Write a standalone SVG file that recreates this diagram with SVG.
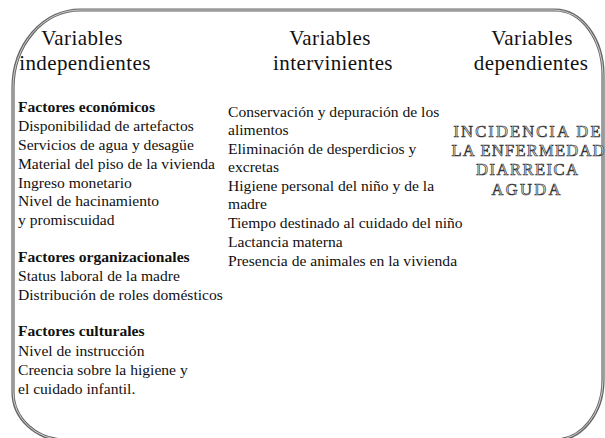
<svg xmlns="http://www.w3.org/2000/svg" width="605" height="438" viewBox="0 0 605 438">
<style>
.frame{fill:none;stroke:#666;stroke-width:3.2}
.frame2{fill:none;stroke:#ddd;stroke-width:0.9}
.h{font-size:21px;fill:#111;text-anchor:middle;letter-spacing:0.4px}
.t{font-size:15.6px;fill:#111}
.b{font-weight:bold}
.o{font-size:16.5px;fill:#f2f2f2;stroke:#333;stroke-width:0.7;text-anchor:middle}
</style>
<defs>
<path id="border" d="M 80,10 L 555,10 A 48,65 0 0 1 603,75 L 603,380 A 48,60 0 0 1 555,440 L 65,440 A 52,48 0 0 1 13,392 L 13,88 A 67,78 0 0 1 80,10 Z"/>
</defs>
<g id="frame">
<use href="#border" class="frame"/>
<use href="#border" class="frame2"/>
</g>
<g id="independientes">
<text font-family="Liberation Serif" class="h" x="82" y="45">Variables</text>
<text font-family="Liberation Serif" class="h" x="85" y="70">independientes</text>
<text font-family="Liberation Serif" class="t b" x="18" y="112">Factores económicos</text>
<text font-family="Liberation Serif" class="t" x="18" y="131">Disponibilidad de artefactos</text>
<text font-family="Liberation Serif" class="t" x="18" y="150">Servicios de agua y desagüe</text>
<text font-family="Liberation Serif" class="t" x="18" y="169">Material del piso de la vivienda</text>
<text font-family="Liberation Serif" class="t" x="18" y="188">Ingreso monetario</text>
<text font-family="Liberation Serif" class="t" x="18" y="206">Nivel de hacinamiento</text>
<text font-family="Liberation Serif" class="t" x="18" y="225">y promiscuidad</text>
<text font-family="Liberation Serif" class="t b" x="18" y="262">Factores organizacionales</text>
<text font-family="Liberation Serif" class="t" x="18" y="281">Status laboral de la madre</text>
<text font-family="Liberation Serif" class="t" x="18" y="300">Distribución de roles domésticos</text>
<text font-family="Liberation Serif" class="t b" x="18" y="336">Factores culturales</text>
<text font-family="Liberation Serif" class="t" x="18" y="356">Nivel de instrucción</text>
<text font-family="Liberation Serif" class="t" x="18" y="375">Creencia sobre la higiene y</text>
<text font-family="Liberation Serif" class="t" x="18" y="394">el cuidado infantil.</text>
</g>
<g id="intervinientes">
<text font-family="Liberation Serif" class="h" x="330" y="45">Variables</text>
<text font-family="Liberation Serif" class="h" x="333" y="70">intervinientes</text>
<text font-family="Liberation Serif" class="t" x="228" y="117">Conservación y depuración de los</text>
<text font-family="Liberation Serif" class="t" x="228" y="135">alimentos</text>
<text font-family="Liberation Serif" class="t" x="228" y="154">Eliminación de desperdicios y</text>
<text font-family="Liberation Serif" class="t" x="228" y="172">excretas</text>
<text font-family="Liberation Serif" class="t" x="228" y="191">Higiene personal del niño y de la</text>
<text font-family="Liberation Serif" class="t" x="228" y="209">madre</text>
<text font-family="Liberation Serif" class="t" x="228" y="228">Tiempo destinado al cuidado del niño</text>
<text font-family="Liberation Serif" class="t" x="228" y="247">Lactancia materna</text>
<text font-family="Liberation Serif" class="t" x="228" y="266">Presencia de animales en la vivienda</text>
</g>
<g id="dependientes">
<text font-family="Liberation Serif" class="h" x="532" y="45">Variables</text>
<text font-family="Liberation Serif" class="h" x="531" y="70">dependientes</text>
<text font-family="Liberation Serif" class="o" x="527" y="137" textLength="147" lengthAdjust="spacing">INCIDENCIA DE</text>
<text font-family="Liberation Serif" class="o" x="528" y="156" textLength="153" lengthAdjust="spacing">LA ENFERMEDAD</text>
<text font-family="Liberation Serif" class="o" x="527" y="175" textLength="102" lengthAdjust="spacing">DIARREICA</text>
<text font-family="Liberation Serif" class="o" x="526" y="195" textLength="69" lengthAdjust="spacing">AGUDA</text>
</g>
</svg>
